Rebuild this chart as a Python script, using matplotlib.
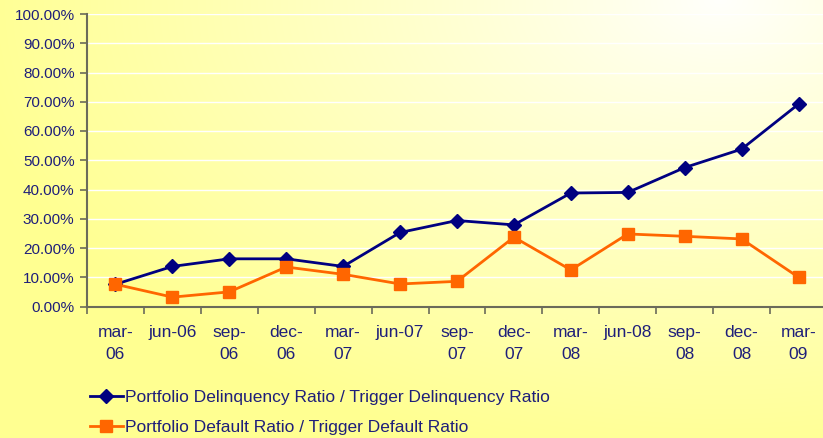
import numpy as np
import matplotlib
matplotlib.use("Agg")
import matplotlib.pyplot as plt
from matplotlib.ticker import FuncFormatter, FixedLocator

categories = ["mar-\n06", "jun-06", "sep-\n06", "dec-\n06", "mar-\n07", "jun-07",
              "sep-\n07", "dec-\n07", "mar-\n08", "jun-08", "sep-\n08", "dec-\n08", "mar-\n09"]
delinquency = [7.6, 13.7, 16.3, 16.3, 13.7, 25.3, 29.4, 27.9, 38.8, 39.0, 47.5, 53.8, 69.2]
default = [7.6, 3.2, 5.0, 13.5, 11.0, 7.7, 8.6, 23.7, 12.5, 24.8, 24.0, 23.1, 10.0]
series_names = ["Portfolio Delinquency Ratio / Trigger Delinquency Ratio",
                "Portfolio Default Ratio / Trigger Default Ratio"]

plt.rcParams['font.family'] = ['Liberation Sans', 'DejaVu Sans']
W, H = 823, 438
fig = plt.figure(figsize=(W / 100, H / 100), dpi=100)

# background gradient
yy, xx = np.mgrid[0:H, 0:W]
dx = (xx - 720) / 760.0
dy = (yy - 0) / 470.0
t = np.clip(np.sqrt(dx ** 2 + dy ** 2), 0, 1) ** 0.9
white = np.array([1.0, 1.0, 0.99])
yellow = np.array([1.0, 1.0, 0.57])
img = white[None, None, :] * (1 - t[..., None]) + yellow[None, None, :] * t[..., None]
bg = fig.add_axes([0, 0, 1, 1], zorder=-10)
bg.imshow(img, aspect='auto', extent=[0, 1, 0, 1], origin='upper')
bg.axis('off')

navy = '#1f1f7a'
spine_c = '#6b6b5a'
ax = fig.add_axes([87 / W, (H - 306.5) / H, 740 / W, 292.5 / H])
ax.patch.set_alpha(0)
x = np.arange(len(categories))
ax.plot(x, np.array(delinquency) / 100, color='#000080', lw=2.0, marker='D', ms=7,
        label=series_names[0], zorder=3)
ax.plot(x, np.array(default) / 100, color='#FF6600', lw=2.0, marker='s', ms=8.5,
        label=series_names[1], zorder=3)

ax.set_xlim(-0.5, len(categories) - 0.5)
ax.set_ylim(0, 1.0)
ax.set_yticks(np.arange(0, 1.01, 0.1))
ax.yaxis.set_major_formatter(FuncFormatter(lambda v, p: f"{v * 100:.2f}%"))
ax.grid(axis='y', color='white', lw=1.0)
ax.set_axisbelow(True)

ax.set_xticks(x)
ax.set_xticklabels(categories, linespacing=1.6)
ax.xaxis.set_minor_locator(FixedLocator(np.arange(-0.5, len(categories), 1.0)))
ax.tick_params(axis='x', which='major', length=0, pad=13, labelsize=12.5, labelcolor=navy)
ax.tick_params(axis='x', which='minor', length=5, width=1.2, color=spine_c, direction='out')
ax.tick_params(axis='y', length=5, width=1.2, color=spine_c, pad=4, labelsize=11, labelcolor=navy)

for s in ['top', 'right']:
    ax.spines[s].set_visible(False)
for s in ['left', 'bottom']:
    ax.spines[s].set_color(spine_c)
    ax.spines[s].set_linewidth(1.5)

leg = fig.legend(loc='upper left', bbox_to_anchor=(90 / W, 1 - 390 / H), frameon=False,
                 fontsize=12.5, handlelength=1.9, handletextpad=0.1, labelspacing=0.85,
                 numpoints=1, borderaxespad=0, borderpad=0)
for txt in leg.get_texts():
    txt.set_color(navy)

fig.savefig('out.png', dpi=100)
